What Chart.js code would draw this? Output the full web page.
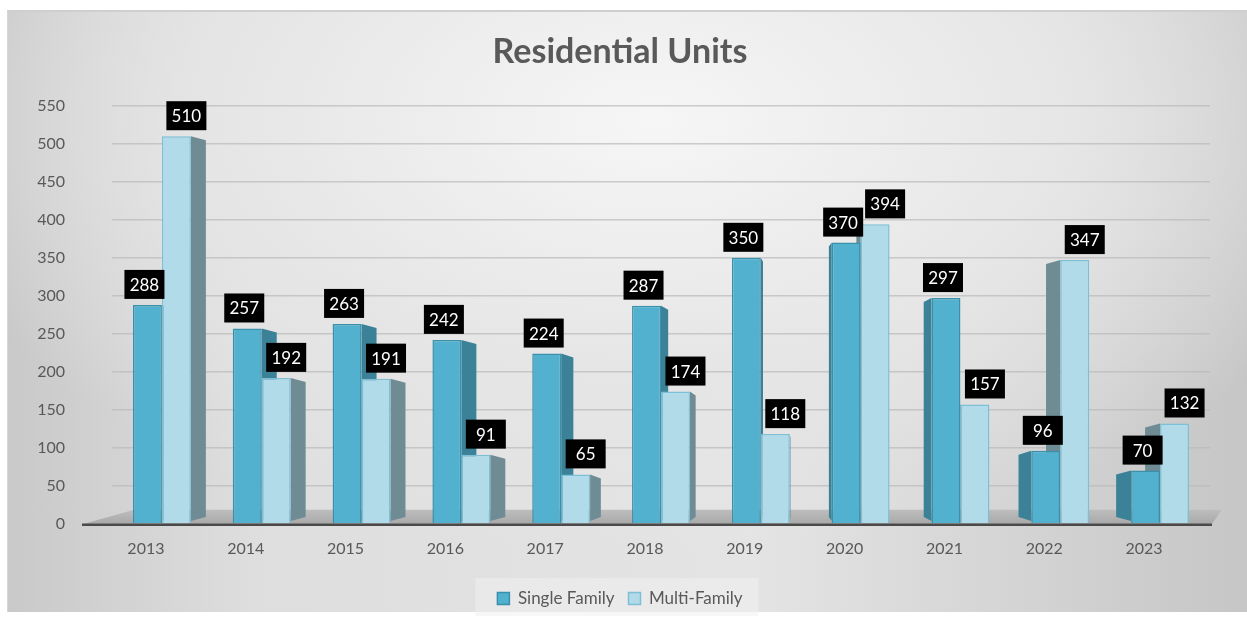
<!DOCTYPE html>
<html>
<head>
<meta charset="utf-8">
<script src="https://cdn.jsdelivr.net/npm/chart.js@4.4.1/dist/chart.umd.min.js"></script>
<style>
  html, body { margin: 0; padding: 0; background: #fff; }
  #marco {
    position: absolute; left: 7px; top: 10px; width: 1240px; height: 602px;
    box-sizing: border-box; border-top: 2px solid #cfcfcf; border-left: 1px solid #d6d6d6;
    background:
      radial-gradient(ellipse 75% 90% at 52% 18%, #f6f6f6 0%, #e6e6e6 45%, rgba(210,210,210,0) 80%),
      linear-gradient(90deg, #c9c9c9 0%, #dedede 20%, #e4e4e4 60%, #c6c6c6 100%);
  }
  #contenedor { position: absolute; left: 0; top: 0; width: 1247px; height: 620px; }
</style>
</head>
<body>
<div id="marco"></div>
<div id="contenedor"><canvas id="grafico" width="1247" height="620"></canvas></div>
<script>
const anios = ['2013', '2014', '2015', '2016', '2017', '2018', '2019', '2020', '2021', '2022', '2023'];
const unifamiliar = [288, 257, 263, 242, 224, 287, 350, 370, 297, 96, 70];
const multifamiliar = [510, 192, 191, 91, 65, 174, 118, 394, 157, 347, 132];
const marcasY = [0, 50, 100, 150, 200, 250, 300, 350, 400, 450, 500, 550];

const fuente = 'Lato, "Open Sans", "DejaVu Sans", sans-serif';

// caras laterales para dar aspecto 3D a las barras
const lados = {
    id: 'lados',
    beforeDatasetsDraw(chart) {
        const ctx = chart.ctx;
        const area = chart.chartArea;
        const fuga = 790;
        const base = area.bottom;

        // piso gris
        ctx.save();
        const g = ctx.createLinearGradient(0, base - 14, 0, base);
        g.addColorStop(0, '#bdbdbd');
        g.addColorStop(1, '#a9a9a9');
        ctx.fillStyle = g;
        ctx.beginPath();
        ctx.moveTo(area.left + 22, base - 14);
        ctx.lineTo(area.right + 12, base - 14);
        ctx.lineTo(area.right + 2, base);
        ctx.lineTo(area.left - 28, base);
        ctx.closePath();
        ctx.fill();
        ctx.strokeStyle = '#4a4a4a';
        ctx.lineWidth = 2.5;
        ctx.beginPath();
        ctx.moveTo(area.left - 30, base + 1);
        ctx.lineTo(area.right + 2, base + 1);
        ctx.stroke();

        const colores = ['#3b8197', '#6f8c95'];
        [0, 1].forEach(i => {
            chart.getDatasetMeta(i).data.forEach(bar => {
                const mitad = bar.width / 2;
                let dx = (bar.x - fuga) * 0.05;
                dx = Math.max(-15, Math.min(15, dx));
                const borde = dx < 0 ? bar.x + mitad : bar.x - mitad;
                const ext = borde - dx;
                ctx.fillStyle = colores[i];
                ctx.beginPath();
                ctx.moveTo(borde, bar.y);
                ctx.lineTo(ext, bar.y + 4);
                ctx.lineTo(ext, bar.base - 6);
                ctx.lineTo(borde, bar.base - 2);
                ctx.closePath();
                ctx.fill();
            });
        });
        ctx.restore();
    }
};

// etiquetas negras con el valor encima de cada barra
const etiquetas = {
    id: 'etiquetas',
    afterDatasetsDraw(chart) {
        const ctx = chart.ctx;
        ctx.save();
        ctx.font = '17px ' + fuente;
        ctx.textAlign = 'center';
        ctx.textBaseline = 'middle';
        [0, 1].forEach(i => {
            const valores = chart.data.datasets[i].data;
            chart.getDatasetMeta(i).data.forEach((bar, j) => {
                const cx = bar.x + (i === 0 ? -3 : 10);
                const ancho = 40, alto = 29;
                const abajo = bar.y - 6;
                ctx.fillStyle = '#000';
                ctx.fillRect(cx - ancho / 2, abajo - alto, ancho, alto);
                ctx.fillStyle = '#fff';
                ctx.fillText(String(valores[j]), cx, abajo - alto / 2 + 1);
            });
        });
        ctx.restore();
    }
};

// fondo claro detrás de la leyenda
const fondoLeyenda = {
    id: 'fondoLeyenda',
    beforeDraw(chart) {
        const cajas = chart.legend.legendHitBoxes;
        if (!cajas || !cajas.length) return;
        const izq = Math.min(...cajas.map(c => c.left)) - 22;
        const der = Math.max(...cajas.map(c => c.left + c.width)) + 16;
        const arr = cajas[0].top - 12;
        const ctx = chart.ctx;
        ctx.save();
        ctx.fillStyle = 'rgba(240,240,240,0.55)';
        ctx.fillRect(izq, arr, der - izq, 38);
        ctx.restore();
    }
};

const ctx = document.getElementById('grafico').getContext('2d');
new Chart(ctx, {
    type: 'bar',
    data: {
        labels: anios,
        datasets: [{
            label: 'Single Family',
            data: unifamiliar,
            backgroundColor: '#52b1cf',
            borderColor: '#3a90aa',
            borderWidth: 1.5,
            categoryPercentage: 0.58,
            barPercentage: 1
        }, {
            label: 'Multi-Family',
            data: multifamiliar,
            backgroundColor: '#b2dbe9',
            borderColor: '#7dbfd6',
            borderWidth: 1.5,
            categoryPercentage: 0.58,
            barPercentage: 1
        }]
    },
    options: {
        responsive: false,
        animation: false,
        layout: { padding: { left: 30, right: 37, top: 12, bottom: 3 } },
        plugins: {
            title: {
                display: true,
                text: 'Residential Units',
                color: '#595959',
                font: { family: fuente, size: 34, weight: 'bold' },
                padding: { top: 20, bottom: 33 }
            },
            legend: {
                position: 'bottom',
                labels: {
                    color: '#595959',
                    font: { family: fuente, size: 17 },
                    boxWidth: 12,
                    boxHeight: 12,
                    padding: 14
                }
            },
            tooltip: { enabled: false }
        },
        scales: {
            x: {
                grid: { display: false },
                border: { display: false },
                afterFit(scale) { scale.height += 11; },
                ticks: {
                    color: '#595959',
                    font: { family: fuente, size: 16 },
                    padding: 7,
                    labelOffset: -16
                }
            },
            y: {
                min: 0,
                max: 550,
                afterBuildTicks(scale) {
                    scale.ticks = marcasY.map(v => ({ value: v }));
                },
                afterFit(scale) { scale.width = 82; },
                grid: { color: 'rgba(185,185,185,0.7)', lineWidth: 1.5, drawTicks: false },
                border: { display: false },
                ticks: {
                    color: '#595959',
                    font: { family: fuente, size: 16 },
                    padding: 47
                }
            }
        }
    },
    plugins: [lados, etiquetas, fondoLeyenda]
});
</script>
</body>
</html>
